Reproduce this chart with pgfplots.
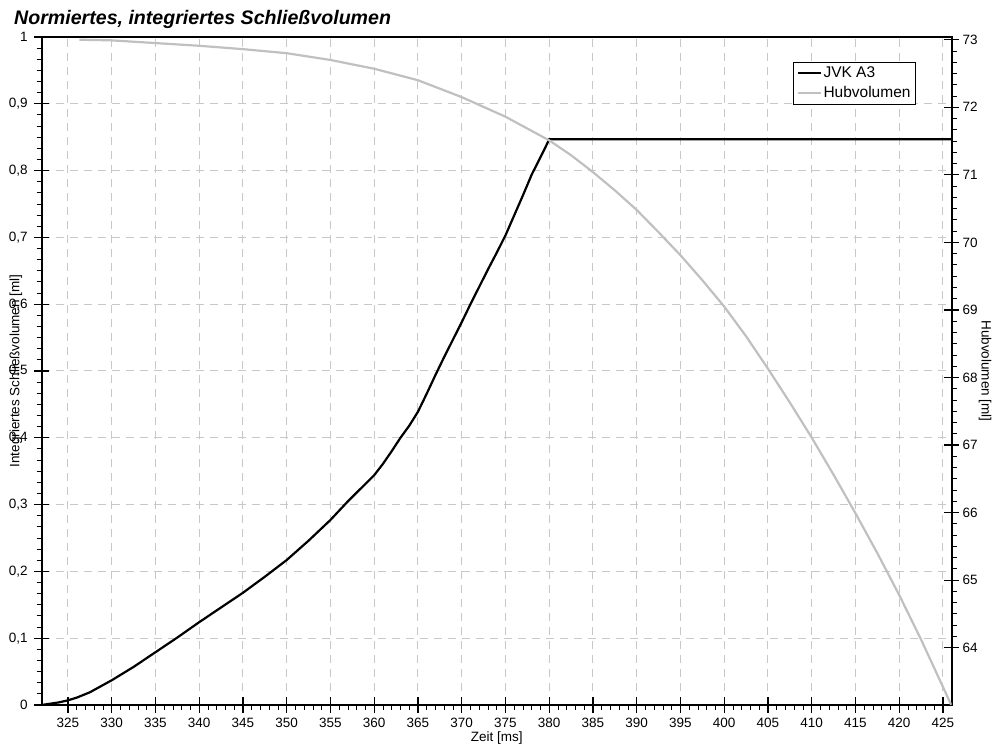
\documentclass[border=0pt]{standalone}
\usepackage{fontspec}
\setmainfont{Liberation Sans}
\usepackage{pgfplots}
\pgfplotsset{compat=1.18}

\definecolor{hubgray}{RGB}{192,192,192}
\definecolor{gridgray}{RGB}{200,200,200}
\newcommand{\tickfont}{\fontsize{13.5}{16}\selectfont}
\newcommand{\titlefont}{\fontsize{19.6}{23}\selectfont\bfseries\itshape}

\pgfplotsset{
  base/.style={
    scale only axis, width=910pt, height=668pt,
    xmin=322, xmax=426,
    /pgf/number format/assume math mode=true,
    /pgf/number format/fixed,
    /pgf/number format/use comma,
    tick label style={font=\tickfont},
    tick align=center, major tick length=15pt, minor tick length=5pt,
    major tick style={black, line width=1.2pt},
    minor tick style={black, line width=0.9pt},
    axis line style={line width=1.6pt},
  },
}

\begin{document}
\begin{tikzpicture}
% left axis: integrated closing volume
\begin{axis}[base,
    ymin=0, ymax=1,
    xtick={325,330,...,425}, ytick={0,0.1,...,1},
    minor x tick num=4,
    minor tick style={yshift=-2.5pt},
    xtick pos=left, ytick pos=left,
    grid=major,
    major grid style={gridgray, line width=1pt, dash pattern=on 8pt off 6pt},
    xticklabel style={yshift=-2pt},
    yticklabel style={xshift=-3pt},
]
\addplot[black, line width=2.2pt] coordinates {
(322,0) (323,0.002) (324,0.004) (325,0.007) (326,0.011) (327.5,0.019)
(330,0.037) (332.5,0.057) (335,0.079) (337.5,0.101) (340,0.124)
(342.5,0.146) (345,0.168) (347.5,0.192) (350,0.217) (352.5,0.246)
(355,0.277) (356,0.291) (357,0.305) (358,0.318) (359,0.331) (360,0.344)
(361,0.361) (362,0.380) (363,0.400) (364,0.418) (365,0.439) (366,0.466)
(367,0.494) (368,0.521) (369,0.547) (370,0.573) (371,0.600) (372,0.626)
(373,0.652) (374,0.677) (375,0.703) (376,0.733) (377,0.763) (378,0.794)
(379,0.820) (379.5,0.833) (380,0.847) (426,0.847)
};
\coordinate (SW) at (rel axis cs:0,0);
\coordinate (NW) at (rel axis cs:0,1);
\coordinate (B) at (rel axis cs:0.5,0);
\coordinate (L) at (rel axis cs:0,0.5);
\coordinate (R) at (rel axis cs:1,0.5);
\end{axis}

% small outward ticks on the left axis
\begin{axis}[base,
    ymin=0, ymax=1,
    axis x line=none, axis y line*=left,
    ytick={0,0.1,...,1}, yticklabels={},
    minor y tick num=5, major tick length=0pt,
    minor tick style={xshift=-2.5pt},
]
\end{axis}

% right axis: stroke volume
\begin{axis}[base,
    ymin=63.152, ymax=73.04,
    axis x line=none, axis y line*=right,
    ytick={64,65,...,73}, minor y tick num=5,
    minor tick style={xshift=2.5pt},
    legend style={at={(axis description cs:0.9608,0.963)}, anchor=north east,
      draw=black, line width=1pt, font=\fontsize{15.5}{18}\selectfont,
      inner xsep=4pt, inner ysep=3pt, row sep=4pt,
      nodes={inner sep=1pt, text height=11pt, text depth=3pt}},
    legend cell align=left,
    legend image code/.code={\draw[#1, line width=2.2pt] (0pt,0pt) -- (23pt,0pt);},
]
\addlegendimage{black}
\addlegendentry{JVK A3}
\addplot[hubgray, line width=2.2pt] coordinates {
(326.3,73.00) (330,72.99) (335,72.95) (340,72.91) (345,72.86) (350,72.80)
(355,72.70) (360,72.57) (365,72.40) (370,72.15) (375,71.86) (380,71.51)
(382.5,71.29) (385,71.04) (387.5,70.77) (390,70.48) (392.5,70.15)
(395,69.81) (397.5,69.44) (400,69.05) (402.5,68.61) (405,68.13)
(407.5,67.63) (410,67.11) (412.5,66.56) (415,65.99) (417.5,65.40)
(420,64.78) (422.5,64.12) (425,63.42) (425.95,63.15)
};
\addlegendentry{Hubvolumen}
\end{axis}

\node[font=\tickfont] at ([yshift=-33pt]B) {Zeit [ms]};
\node[font=\tickfont, rotate=90] at ([xshift=-25.7pt]L) {Integriertes Schließvolumen [ml]};
\node[font=\tickfont, rotate=-90] at ([xshift=33.3pt]R) {Hubvolumen [ml]};
\node[font=\titlefont, anchor=base west, inner sep=0pt] at ([xshift=-27.7pt, yshift=12pt]NW)
  {Normiertes, integriertes Schließvolumen};

\pgfresetboundingbox
\path[use as bounding box] ([shift={(-41.7pt,-42pt)}]SW) rectangle ++(994pt,747pt);
\end{tikzpicture}
\end{document}
